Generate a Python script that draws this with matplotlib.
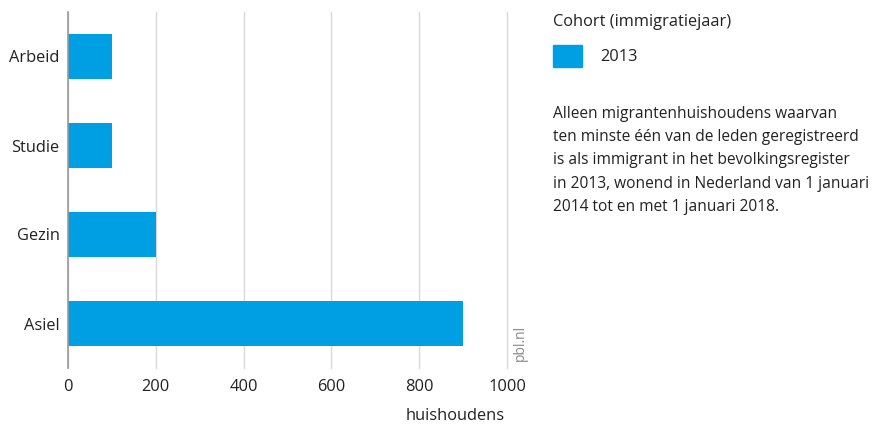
import matplotlib.pyplot as plt
from matplotlib.patches import Rectangle

# data
categories = ['Arbeid', 'Studie', 'Gezin', 'Asiel']
values_2013 = [100, 100, 200, 900]
xticks = [0, 200, 400, 600, 800, 1000]

bar_color = '#009FE3'
plt.rcParams['font.family'] = ['Open Sans', 'DejaVu Sans']

fig = plt.figure(figsize=(8.8, 4.25), dpi=100)
ax = fig.add_axes([68 / 880, 1 - 368 / 425, (507 - 68) / 880, (368 - 12) / 425])

ax.barh(categories, values_2013, height=0.5, color=bar_color, zorder=3)
ax.set_ylim(3.5, -0.5)
ax.set_xlim(0, 1000)
ax.set_xticks(xticks)
ax.set_xticklabels([str(t) for t in xticks])
ax.tick_params(axis='both', length=0, labelsize=11.8, colors='#222222')
ax.tick_params(axis='x', pad=8)
ax.tick_params(axis='y', pad=6)
ax.grid(axis='x', color='#d9d9d9', linewidth=1, zorder=0)
for gl in ax.get_xgridlines():
    gl.set_clip_on(False)
for s in ['top', 'right', 'bottom']:
    ax.spines[s].set_visible(False)
ax.spines['left'].set_color('#999999')
ax.spines['left'].set_linewidth(1.2)
ax.spines['left'].set_zorder(4)

fig.text(505 / 880, 1 - 416 / 425, 'huishoudens', fontsize=11.8,
         color='#222222', ha='right', va='center')

ax.text(1.03, 0.02, 'pbl.nl', transform=ax.transAxes, rotation=90,
        fontsize=10, color='#888888', ha='center', va='bottom')

# legend / notes on the right
fig.text(553 / 880, 1 - 22 / 425, 'Cohort (immigratiejaar)', fontsize=11.8,
         color='#222222', va='center')
fig.patches.append(Rectangle((553 / 880, 1 - 67 / 425), 29 / 880, 22 / 425,
                             transform=fig.transFigure, color=bar_color))
fig.text(600 / 880, 1 - 57 / 425, '2013', fontsize=11.8, color='#222222', va='center')

note = ('Alleen migrantenhuishoudens waarvan\n'
        'ten minste één van de leden geregistreerd\n'
        'is als immigrant in het bevolkingsregister\n'
        'in 2013, wonend in Nederland van 1 januari\n'
        '2014 tot en met 1 januari 2018.')
fig.text(553 / 880, 1 - 106 / 425, note, fontsize=11.2, color='#222222',
         va='top', linespacing=1.6)

fig.savefig('out.png', dpi=100)
